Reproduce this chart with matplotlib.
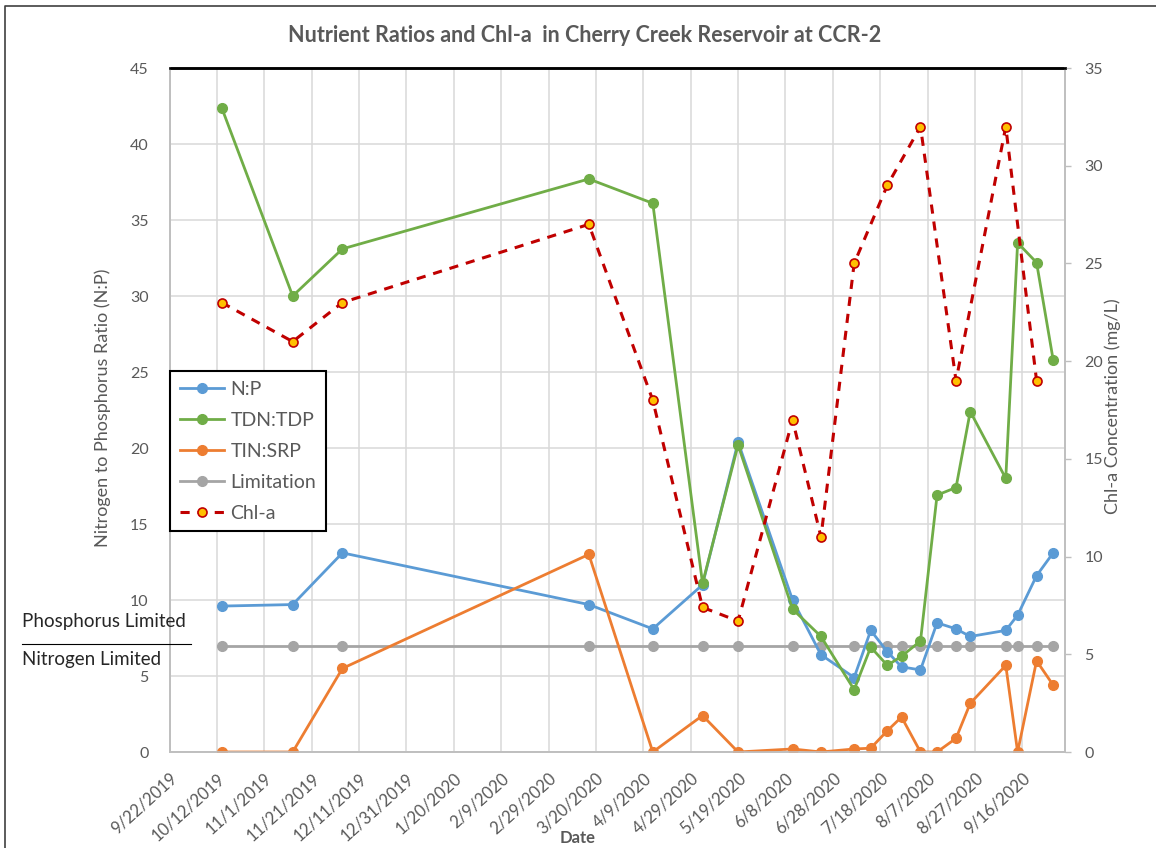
import matplotlib
matplotlib.use("Agg")
import matplotlib.pyplot as plt
import matplotlib.dates as mdates
from matplotlib.lines import Line2D

plt.rcParams['font.family'] = ['Lato', 'DejaVu Sans']

# sampling dates at CCR-2
dates = ["2019-10-14", "2019-11-13", "2019-12-04", "2020-03-17", "2020-04-13",
         "2020-05-04", "2020-05-19", "2020-06-11", "2020-06-23", "2020-07-07",
         "2020-07-14", "2020-07-21", "2020-07-27", "2020-08-04", "2020-08-11",
         "2020-08-19", "2020-08-25", "2020-09-09", "2020-09-14", "2020-09-22",
         "2020-09-29"]

np_ratio = [9.6, 9.7, 13.1, 9.7, 8.1, 11.0, 20.4, 10.0, 6.4, 4.9, 8.0, 6.6, 5.6,
            5.4, 8.5, 8.1, 7.6, 8.0, 9.0, 11.6, 13.1]
tdn_tdp = [42.4, 30.0, 33.1, 37.7, 36.1, 11.1, 20.2, 9.4, 7.6, 4.1, 6.9, 5.7, 6.3,
           7.3, 16.9, 17.4, 22.4, 18.0, 33.5, 32.2, 25.8]
tin_srp = [0.0, 0.0, 5.5, 13.0, 0.0, 2.4, 0.0, 0.2, 0.0, 0.2, 0.25, 1.4, 2.3,
           0.0, 0.0, 0.9, 3.2, 5.7, 0.0, 6.0, 4.4]
limitation = [7] * len(dates)

chl_dates = ["2019-10-14", "2019-11-13", "2019-12-04", "2020-03-17", "2020-04-13",
             "2020-05-04", "2020-05-19", "2020-06-11", "2020-06-23", "2020-07-07",
             "2020-07-21", "2020-08-04", "2020-08-19", "2020-09-09", "2020-09-22"]
chl_a = [23, 21, 23, 27, 18, 7.4, 6.7, 17, 11, 25, 29, 32, 19, 32, 19]

GREY_TXT = '#595959'

fig = plt.figure(figsize=(11.56, 8.48), dpi=100)
ax = fig.add_axes([169.5 / 1156, 1 - 752 / 848, (1065 - 169.5) / 1156, (752 - 68) / 848])
ax2 = ax.twinx()

x = mdates.datestr2num(dates)
xc = mdates.datestr2num(chl_dates)

ax.plot(x, np_ratio, '-o', color='#5B9BD5', lw=2, ms=7, label='N:P', zorder=3)
ax.plot(x, tdn_tdp, '-o', color='#70AD47', lw=2, ms=7, label='TDN:TDP', zorder=3)
ax.plot(x, tin_srp, '-o', color='#ED7D31', lw=2, ms=7, label='TIN:SRP', zorder=3)
ax.plot(x, limitation, '-o', color='#A5A5A5', lw=2, ms=7, label='Limitation', zorder=2)
ax2.plot(xc, chl_a, '--o', color='#C00000', lw=2.2, dashes=(3, 2.6), ms=6.5,
         mfc='#FFC000', mec='#C00000', mew=1.2, label='Chl-a')

# x axis: 20-day ticks
start = mdates.datestr2num("2019-09-22")
ax.set_xlim(start, mdates.datestr2num("2020-10-04"))
ticks = [start + 20 * i for i in range(19)]
ax.set_xticks(ticks)
ax.set_xticklabels([mdates.num2date(t).strftime('%-m/%-d/%Y') for t in ticks],
                   rotation=42, ha='right', rotation_mode='anchor')

ax.set_ylim(0, 45)
ax.set_yticks(range(0, 46, 5))
ax2.set_ylim(0, 35)
ax2.set_yticks(range(0, 36, 5))

ax.grid(True, color='#D9D9D9', lw=1.1)
ax.set_axisbelow(True)
ax.tick_params(axis='x', length=0, pad=13, labelsize=12, labelcolor=GREY_TXT)
ax.tick_params(axis='y', length=0, pad=15, labelsize=11.5, labelcolor=GREY_TXT)
ax2.tick_params(axis='y', length=4, width=1, color='#BFBFBF', pad=10,
                labelsize=11.5, labelcolor=GREY_TXT)

for a in (ax, ax2):
    for side in ('left', 'bottom', 'right'):
        a.spines[side].set_color('#BFBFBF')
        a.spines[side].set_linewidth(1.2)
    a.spines['top'].set_color('black')
    a.spines['top'].set_linewidth(1.8)

fig.text(578 / 1156, 1 - 838 / 848, 'Date', ha='center', va='center',
         fontsize=12, fontweight='bold', color=GREY_TXT)
fig.text(103 / 1156, 1 - 408 / 848, 'Nitrogen to Phosphorus Ratio (N:P)', rotation=90,
         ha='center', va='center', fontsize=13, color=GREY_TXT)
fig.text(1113 / 1156, 1 - 406 / 848, 'Chl-a Concentration (mg/L)', rotation=90,
         ha='center', va='center', fontsize=13, color=GREY_TXT)
fig.text(585 / 1156, 1 - 35 / 848, 'Nutrient Ratios and Chl-a  in Cherry Creek Reservoir at CCR-2',
         ha='center', va='center', fontsize=15.5, fontweight='bold', color=GREY_TXT)

# limitation annotation on the left
fig.text(22 / 1156, 1 - 622 / 848, 'Phosphorus Limited', ha='left', va='center',
         fontsize=13.5, color='#262626')
fig.text(22 / 1156, 1 - 660 / 848, 'Nitrogen Limited', ha='left', va='center',
         fontsize=13.5, color='#262626')
fig.add_artist(Line2D([22 / 1156, 191 / 1156], [1 - 643.5 / 848, 1 - 643.5 / 848],
                      transform=fig.transFigure, color='black', lw=0.8))

# outer frame (top and left edges visible)
fig.add_artist(Line2D([5 / 1156, 5 / 1156, 1], [0, 1 - 6 / 848, 1 - 6 / 848],
                      transform=fig.transFigure, color='#404040', lw=1.2))

h1, l1 = ax.get_legend_handles_labels()
h2, l2 = ax2.get_legend_handles_labels()
leg = ax2.legend(h1 + h2, l1 + l2, loc='upper left',
                 bbox_to_anchor=(170 / 1156, 1 - 371 / 848), bbox_transform=fig.transFigure,
                 borderaxespad=0, fancybox=False, framealpha=1, edgecolor='black',
                 fontsize=14, labelspacing=0.72, handlelength=2.3, handletextpad=0.3,
                 borderpad=0.5)
leg.get_frame().set_linewidth(1.5)
for t in leg.get_texts():
    t.set_color(GREY_TXT)

fig.savefig('out.png', dpi=100)
